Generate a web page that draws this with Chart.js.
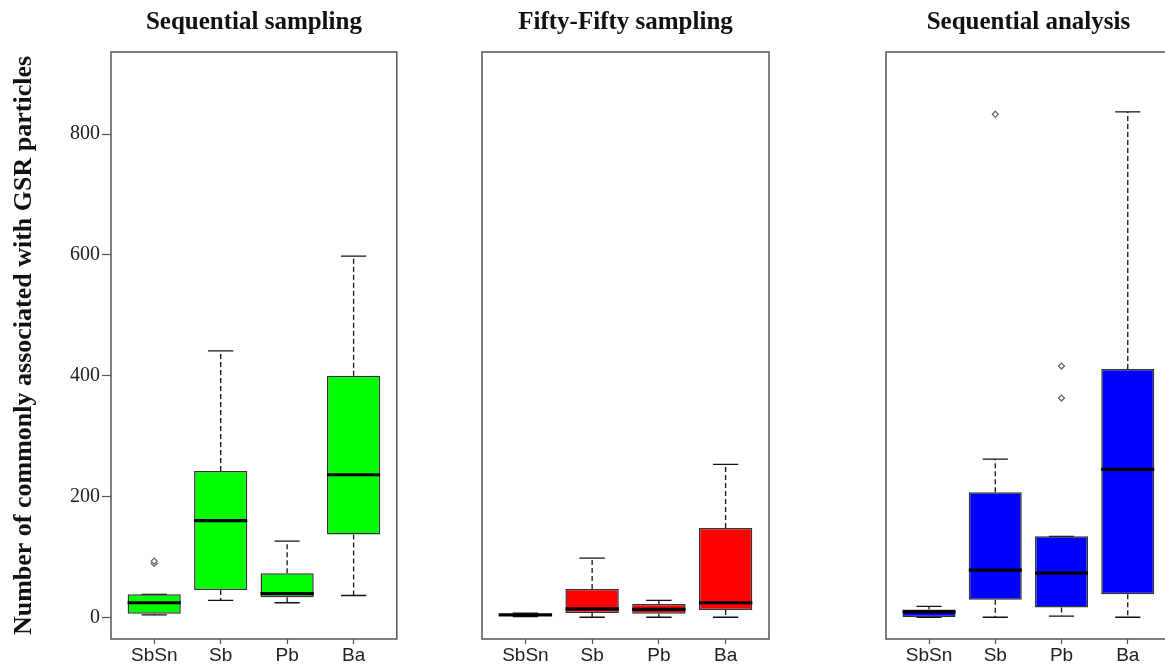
<!DOCTYPE html>
<html>
<head>
<meta charset="utf-8">
<script src="https://cdn.jsdelivr.net/npm/chart.js@4.4.1/dist/chart.umd.min.js"></script>
<style>
  html, body { margin: 0; padding: 0; background: #fff; }
  body { width: 1165px; height: 664px; overflow: hidden; position: relative; }
  .panel { position: absolute; top: 0; height: 664px; }
</style>
</head>
<body>
<div class="panel" style="left:0px;width:402px"><canvas id="seqSamp"></canvas></div>
<div class="panel" style="left:440px;width:333px"><canvas id="fifty"></canvas></div>
<div class="panel" style="left:840px;width:336px"><canvas id="seqAnal"></canvas></div>
<script>
//-----------------------------------------------------
// Box plots of GSR particle counts, three sampling methods
//-----------------------------------------------------

const categories = ["SbSn", "Sb", "Pb", "Ba"];
const yTicks = [0, 200, 400, 600, 800];
const yLimits = [-36, 936];
const xLimits = [0.35, 4.65];

// Sequential sampling
const seqSampLow  = [4, 28, 24, 36];
const seqSampQ1   = [6, 45, 33, 137];
const seqSampMed  = [24, 160, 39, 236];
const seqSampQ3   = [38, 242, 73, 400];
const seqSampHigh = [38, 441, 126, 598];
const seqSampOut  = [[89, 93], [], [], []];

// Fifty-Fifty sampling
const fiftyLow  = [1, 0, 0, 0];
const fiftyQ1   = [2, 7, 6, 12];
const fiftyMed  = [4, 14, 13, 24];
const fiftyQ3   = [6, 47, 22, 148];
const fiftyHigh = [7, 98, 28, 253];
const fiftyOut  = [[], [], [], []];

// Sequential analysis
const seqAnalLow  = [0, 0, 2, 0];
const seqAnalQ1   = [0, 29, 16, 38];
const seqAnalMed  = [9, 78, 73, 245];
const seqAnalQ3   = [13, 207, 134, 411];
const seqAnalHigh = [18, 262, 134, 837];
const seqAnalOut  = [[], [833], [363, 416], []];

// whiskers go under the boxes, medians and frame on top
const boxPlugin = {
    id: "boxExtras",
    beforeDatasetsDraw(chart, args, opts) {
        const { ctx, scales: { x, y } } = chart;
        ctx.save();
        ctx.strokeStyle = "#111";
        ctx.lineWidth = 1.3;
        opts.med.forEach((m, i) => {
            const cx = x.getPixelForValue(i + 1);
            const capHalf = x.getPixelForValue(i + 1.19) - cx;
            // dashed stems
            ctx.setLineDash([5, 3]);
            ctx.beginPath();
            ctx.moveTo(cx, y.getPixelForValue(opts.q3[i]));
            ctx.lineTo(cx, y.getPixelForValue(opts.high[i]));
            ctx.moveTo(cx, y.getPixelForValue(opts.q1[i]));
            ctx.lineTo(cx, y.getPixelForValue(opts.low[i]));
            ctx.stroke();
            // caps
            ctx.setLineDash([]);
            ctx.beginPath();
            [opts.high[i], opts.low[i]].forEach(v => {
                const py = y.getPixelForValue(v);
                ctx.moveTo(cx - capHalf, py);
                ctx.lineTo(cx + capHalf, py);
            });
            ctx.stroke();
        });
        ctx.restore();
    },
    afterDatasetsDraw(chart, args, opts) {
        const { ctx, scales: { x, y } } = chart;
        ctx.save();
        ctx.strokeStyle = "#000";
        ctx.lineWidth = 3.2;
        opts.med.forEach((m, i) => {
            const cx = x.getPixelForValue(i + 1);
            const half = x.getPixelForValue(i + 1.4) - cx;
            const py = y.getPixelForValue(m);
            ctx.beginPath();
            ctx.moveTo(cx - half, py);
            ctx.lineTo(cx + half, py);
            ctx.stroke();
        });
        ctx.restore();
    },
    afterDraw(chart) {
        const { ctx, chartArea: a } = chart;
        ctx.save();
        ctx.strokeStyle = "#555";
        ctx.lineWidth = 1.5;
        ctx.strokeRect(a.left, a.top, a.right - a.left, a.bottom - a.top);
        ctx.restore();
    }
};

function makePanel(id, title, low, q1, med, q3, high, out, fill, yWidth, padRight, showY) {
    const boxes = categories.map((c, i) => ({ x: i + 1, y: [q1[i], q3[i]] }));
    const points = [];
    out.forEach((list, i) => list.forEach(v => points.push({ x: i + 1, y: v })));

    return new Chart(document.getElementById(id).getContext("2d"), {
        type: "bar",
        data: {
            datasets: [
                {
                    type: "bar",
                    data: boxes,
                    backgroundColor: fill,
                    borderColor: "#333",
                    borderWidth: 1.5,
                    borderSkipped: false,
                    barPercentage: 0.8,
                    categoryPercentage: 1.0
                },
                {
                    type: "scatter",
                    data: points,
                    pointStyle: "rectRot",
                    radius: 3,
                    backgroundColor: "#fff",
                    borderColor: "#666",
                    borderWidth: 1.2
                }
            ]
        },
        options: {
            responsive: true,
            maintainAspectRatio: false,
            animation: false,
            layout: { padding: { left: 0, right: padRight, top: 0, bottom: 0 } },
            plugins: {
                legend: { display: false },
                tooltip: { enabled: false },
                title: {
                    display: true,
                    text: title,
                    fullSize: false,
                    color: "#111",
                    font: { family: "'Liberation Serif', serif", size: 25, weight: "bold" },
                    padding: { top: 8, bottom: 14 }
                },
                boxExtras: { low, q1, med, q3, high }
            },
            scales: {
                x: {
                    type: "linear",
                    min: xLimits[0],
                    max: xLimits[1],
                    offset: false,
                    afterBuildTicks: s => { s.ticks = categories.map((c, i) => ({ value: i + 1 })); },
                    afterFit: s => { s.height = 25; s.paddingLeft = 0; s.paddingRight = 0; },
                    ticks: {
                        padding: 0,
                        color: "#222",
                        font: { family: "'Liberation Sans', Arial, sans-serif", size: 19 },
                        callback: v => categories[v - 1]
                    },
                    grid: { display: true, offset: false, drawOnChartArea: false, drawTicks: true, tickLength: 5, tickColor: "#555", tickWidth: 1.2 },
                    border: { display: false }
                },
                y: {
                    type: "linear",
                    min: yLimits[0],
                    max: yLimits[1],
                    afterBuildTicks: s => { s.ticks = yTicks.map(v => ({ value: v })); },
                    afterFit: s => { s.width = yWidth; s.paddingTop = 0; s.paddingBottom = 0; },
                    ticks: {
                        display: showY,
                        padding: 2,
                        color: "#222",
                        font: { family: "'Liberation Serif', serif", size: 20 }
                    },
                    grid: { display: showY, drawOnChartArea: false, drawTicks: true, tickLength: 9, tickColor: "#555", tickWidth: 1.2 },
                    border: { display: false },
                    title: {
                        display: showY,
                        text: "Number of commonly associated with GSR particles",
                        color: "#111",
                        font: { family: "'Liberation Serif', serif", size: 26, weight: "bold" },
                        padding: { top: 9, bottom: 0 }
                    }
                }
            }
        },
        plugins: [boxPlugin]
    });
}

makePanel("seqSamp", "Sequential sampling", seqSampLow, seqSampQ1, seqSampMed, seqSampQ3, seqSampHigh, seqSampOut, "#00ff00", 111, 1, true);
makePanel("fifty", "Fifty-Fifty sampling", fiftyLow, fiftyQ1, fiftyMed, fiftyQ3, fiftyHigh, fiftyOut, "#ff0000", 42, 4, false);
makePanel("seqAnal", "Sequential analysis", seqAnalLow, seqAnalQ1, seqAnalMed, seqAnalQ3, seqAnalHigh, seqAnalOut, "#0000ff", 46, 3, false);
</script>
</body>
</html>
